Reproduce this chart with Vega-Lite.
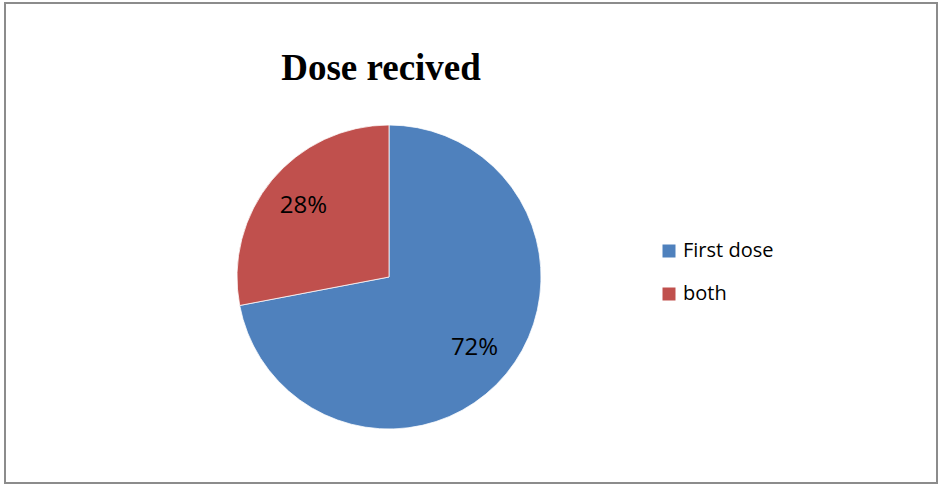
{
  "$schema": "https://vega.github.io/schema/vega-lite/v6.json",
  "width": 940,
  "height": 485,
  "autosize": {"type": "fit", "contains": "padding"},
  "padding": {"left": 5, "top": 3, "right": 3, "bottom": 2},
  "background": "white",
  "view": {"stroke": "#8c8c8c", "strokeWidth": 2},
  "title": {
    "text": "Dose recived",
    "font": "Liberation Serif",
    "fontSize": 37,
    "fontWeight": "bold",
    "color": "black",
    "anchor": "middle",
    "orient": "top",
    "baseline": "alphabetic",
    "offset": -114,
    "dx": -90
  },
  "data": {
    "values": [
      {"dose": "First dose", "share": 0.72},
      {"dose": "both", "share": 0.28}
    ]
  },
  "encoding": {
    "theta": {"field": "share", "type": "quantitative", "stack": true},
    "order": {"field": "share", "type": "quantitative", "sort": "descending"}
  },
  "layer": [
    {
      "mark": {"type": "arc", "outerRadius": 152, "xOffset": -82, "yOffset": 34, "stroke": "white", "strokeWidth": 0.75},
      "encoding": {
        "color": {
          "field": "dose",
          "type": "nominal",
          "scale": {"domain": ["First dose", "both"], "range": ["#4F81BD", "#C0504D"]},
          "legend": {
            "title": null,
            "orient": "none",
            "legendX": 654,
            "legendY": 238,
            "padding": 0,
            "symbolType": "square",
            "symbolSize": 169,
            "symbolStrokeWidth": 0,
            "labelFont": "Open Sans",
            "labelFontSize": 20,
            "labelColor": "black",
            "labelOffset": 4,
            "rowPadding": 23
          }
        }
      }
    },
    {
      "mark": {"type": "text", "radius": 111, "xOffset": -82, "yOffset": 34, "font": "Open Sans", "fontSize": 24, "color": "black", "baseline": "middle", "align": "center"},
      "encoding": {
        "text": {"field": "share", "type": "quantitative", "format": ".0%"}
      }
    }
  ]
}
